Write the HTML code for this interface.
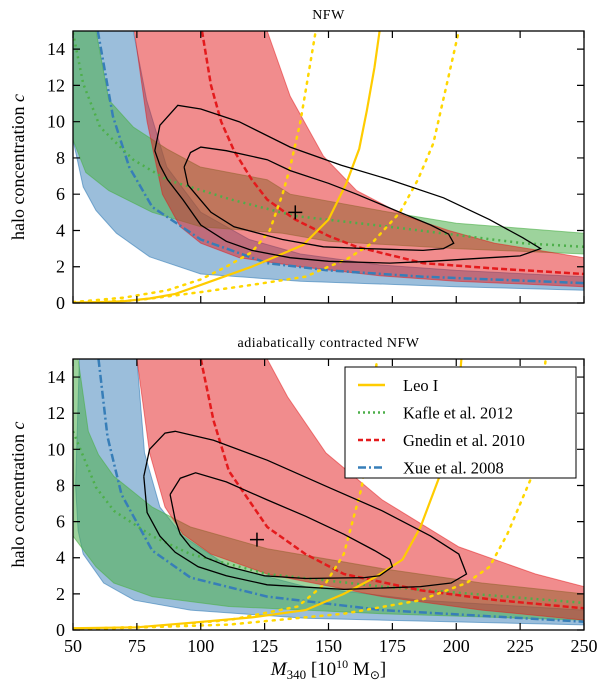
<!DOCTYPE html>
<html><head><meta charset="utf-8"><style>
body{margin:0;background:#fff}
svg{display:block;font-family:"Liberation Serif",serif}
</style></head><body>
<svg id="chart" width="600" height="691" viewBox="0 0 600 691" xmlns="http://www.w3.org/2000/svg"></svg>
<script>
// ---- data ----
const xTicks=[50,75,100,125,150,175,200,225,250];
const yTicks=[0,2,4,6,8,10,12,14];
const legendLabels=["Leo I","Kafle et al. 2012","Gnedin et al. 2010","Xue et al. 2008"];
// top panel (NFW)
const nfwLeo=[[50,0.02],[60,0.05],[70,0.1],[80,0.25],[90,0.5],[100,1.0],[110,1.5],[120,2.0],[130,2.6],[140,3.2],[150,4.6],[157,6.6],[162,8.5],[165,10.6],[168,13],[170,15]];
const nfwLeoLo=[[50,0.05],[70,0.3],[87,0.7],[100,1.3],[110,2.0],[120,2.8],[127,4],[132,6],[135,7.5],[139,10],[142,12.5],[145,15]];
const nfwLeoHi=[[50,0.02],[75,0.15],[100,0.6],[120,1.0],[141,1.45],[150,2.0],[157,2.4],[167,3.3],[178,5.0],[185,6.8],[191,8.8],[197,12.5],[201,15]];
const nfwRedUp=[[74,15],[126,15],[135,11.4],[148,8.1],[161,6.2],[180,4.8],[197,4.0],[215,3.3],[250,2.5]];
const nfwRedLo=[[74,15],[79,10],[85,6],[92,4.2],[100,3.3],[115,2.5],[139,2.0],[170,1.5],[200,1.2],[250,0.9]];
const nfwRedMid=[[100.5,15],[104,12],[108,10],[113,8.4],[120,6.8],[126,5.7],[137,4.6],[150,3.7],[161,3.1],[187,2.2],[215,1.9],[250,1.6]];
const nfwGreenUp=[[50,15],[59,15],[64,11.2],[73.6,9.7],[86.7,8.5],[99.8,7.5],[126,6.8],[135,6.0],[174,5.0],[200,4.4],[250,3.85]];
const nfwGreenLo=[[50,9],[55,7.2],[64,6.2],[81,5.0],[100,4.2],[132,3.85],[150,3.4],[200,3.0],[250,2.7]];
const nfwGreenMid=[[50,14.9],[54,12.1],[60.6,9.7],[73.6,7.9],[86.7,6.8],[112,5.7],[137,4.8],[174,4.2],[226,3.3],[250,3.1]];
const nfwBlueUp=[[50,15],[73.6,15],[78.8,11.2],[86.7,7.5],[100,5.0],[119,3.5],[139,2.7],[170,2.1],[200,1.8],[250,1.45]];
const nfwBlueLo=[[50,9],[54,6.4],[59,5.1],[67,3.85],[80,2.55],[100,1.6],[139,1.2],[200,0.9],[250,0.7]];
const nfwBlueMid=[[59.7,15],[65.6,10.3],[72,7.5],[81,5.3],[100,3.5],[126,2.2],[150,1.8],[187,1.45],[250,1.1]];
const nfwOuter=[[82,8.4],[84,9.8],[91,10.9],[100,10.7],[115,10],[135,8.6],[155,7.6],[174,6.8],[195,5.8],[213,4.6],[226,3.6],[233,3.0],[225,2.6],[213,2.5],[190,2.3],[174,2.2],[150,2.3],[135,2.5],[120,2.9],[110,3.4],[100,4.3],[93,5.7],[87,6.8],[84,7.6],[82,8.4]];
const nfwInner=[[93.5,7.5],[96,8.3],[100,8.6],[110,8.4],[126,7.9],[135,7.3],[150,6.6],[161,6.0],[178,5.0],[190,4.3],[197,3.8],[199,3.3],[195,3.0],[187,2.9],[165,3.0],[148,3.1],[132,3.5],[113,4.2],[104,5.0],[99.8,5.7],[95,6.5],[93.5,7.5]];
const nfwBest=[137,5];
// bottom panel (adiabatically contracted)
const acLeo=[[50,0.1],[75,0.15],[96,0.4],[120,0.7],[141,1.1],[156,2.0],[168,2.9],[179,3.9],[186,5.7],[194,8.7],[200,11.6],[202,15]];
const acLeoLo=[[50,0.05],[81,0.2],[111,0.55],[138,1.3],[149,2.6],[156,4.2],[163,7.9],[166,11],[169,15]];
const acLeoHi=[[50,0.02],[111,0.3],[156,0.9],[186,1.65],[204,2.6],[213,3.5],[220,5.3],[229,8.3],[232,11],[235,15]];
const acRedUp=[[75,15],[126,15],[134,12.9],[149,9.8],[171,7.2],[201,4.6],[231,3.1],[250,2.4]];
const acRedLo=[[75,15],[80,9.8],[86,6.8],[93,5.3],[104,4.2],[126,3.1],[171,1.85],[210,1.1],[250,0.55]];
const acRedMid=[[100,15],[105,11.6],[111,8.8],[126,5.7],[141,4.2],[156,3.1],[186,2.2],[216,1.65],[250,1.2]];
const acGreenUp=[[50,15],[52,15],[56,11],[60,9.7],[66,8.5],[81,6.8],[96,5.7],[126,4.5],[171,3.4],[210,2.6],[250,2.0]];
const acGreenLo=[[50,5.2],[59,3.5],[66,2.6],[81,1.85],[111,1.3],[171,0.9],[250,0.55]];
const acGreenMid=[[50,11],[59,7.9],[66,6.6],[81,5.2],[96,4.2],[126,3.1],[171,2.4],[250,1.5]];
const acBlueUp=[[52.5,15],[75,15],[78,9.8],[84,6.8],[93,5.2],[111,3.5],[141,2.4],[186,1.65],[250,1.1]];
const acBlueLo=[[52.5,15],[51,8],[52,5.5],[54,4.2],[62,2.6],[74,1.65],[96,1.1],[141,0.65],[250,0.28]];
const acBlueMid=[[60,15],[63.5,10.7],[69,7.5],[81,4.4],[96,2.9],[126,1.85],[171,1.1],[250,0.46]];
const acOuter=[[77.7,8.5],[80,10],[86,10.9],[90,11],[105,10.5],[126,9.4],[150,7.9],[171,6.6],[190,5.2],[201,4.2],[204,3.1],[198,2.6],[186,2.4],[156,2.25],[126,2.5],[110,3.0],[99,3.5],[90,4.3],[84,5.2],[79,6.5],[77.7,8.5]];
const acInner=[[88,7.5],[92,8.4],[98,8.7],[110,8.2],[126,7.2],[141,6.3],[156,5.3],[168,4.4],[174,3.9],[175,3.5],[170,3.0],[164,2.9],[141,2.85],[125,3.0],[111,3.5],[102,4.0],[96,4.6],[92,5.3],[90,6.1],[88,7.5]];
const acBest=[122,5];

// ---- layout ----
const L=73,R=584;
const panels=[{top:31,bottom:303,title:"NFW",name:"nfw"},{top:359,bottom:630,title:"adiabatically contracted NFW",name:"ac"}];
const NS="http://www.w3.org/2000/svg";
const svg=document.getElementById('chart');
function mk(tag,attrs,parent){const e=document.createElementNS(NS,tag);for(const k in attrs)e.setAttribute(k,attrs[k]);(parent||svg).appendChild(e);return e;}
const xs=v=>L+(v-50)/200*(R-L);
function ysF(p){return v=>p.bottom-v/15*(p.bottom-p.top);}
function pathOf(pts,ys){return pts.map((p,i)=>(i?'L':'M')+xs(p[0]).toFixed(1)+','+ys(p[1]).toFixed(1)).join(' ');}
function band(up,lo,ys){return pathOf(up,ys)+' '+lo.slice().reverse().map(p=>'L'+xs(p[0]).toFixed(1)+','+ys(p[1]).toFixed(1)).join(' ')+' Z';}

const sets=[
 {leo:nfwLeo,lo:nfwLeoLo,hi:nfwLeoHi,rU:nfwRedUp,rL:nfwRedLo,rM:nfwRedMid,gU:nfwGreenUp,gL:nfwGreenLo,gM:nfwGreenMid,bU:nfwBlueUp,bL:nfwBlueLo,bM:nfwBlueMid,o:nfwOuter,i:nfwInner,best:nfwBest},
 {leo:acLeo,lo:acLeoLo,hi:acLeoHi,rU:acRedUp,rL:acRedLo,rM:acRedMid,gU:acGreenUp,gL:acGreenLo,gM:acGreenMid,bU:acBlueUp,bL:acBlueLo,bM:acBlueMid,o:acOuter,i:acInner,best:acBest}
];

panels.forEach((p,k)=>{
 const ys=ysF(p), d=sets[k];
 const defs=mk('defs',{});
 const cp=mk('clipPath',{id:'clip'+k},defs);
 mk('rect',{x:L,y:p.top,width:R-L,height:p.bottom-p.top},cp);
 const t=mk('text',{x:(L+R)/2,y:p.top-12,'text-anchor':'middle','font-size':'14','letter-spacing':'0.5'});
 t.textContent=p.title;
 
 
 const g=mk('g',{'clip-path':'url(#clip'+k+')'});
 
 
 let e;
 e=mk('path',{d:band(d.bU,d.bL,ys),fill:'rgba(55,126,184,0.5)',stroke:'rgba(55,126,184,0.6)','stroke-width':1},g);
 
 
 e=mk('path',{d:band(d.gU,d.gL,ys),fill:'rgba(77,175,74,0.55)',stroke:'rgba(77,175,74,0.6)','stroke-width':1},g);
 
 
 e=mk('path',{d:band(d.rU,d.rL,ys),fill:'rgba(228,26,28,0.5)',stroke:'rgba(228,26,28,0.5)','stroke-width':1},g);
 
 
 e=mk('path',{d:pathOf(d.bM,ys),fill:'none',stroke:'#377eb8','stroke-width':2.5,'stroke-dasharray':'8,3,2,3'},g);
 
 
 e=mk('path',{d:pathOf(d.gM,ys),fill:'none',stroke:'#4daf4a','stroke-width':2.5,'stroke-dasharray':'2,4'},g);
 
 
 e=mk('path',{d:pathOf(d.rM,ys),fill:'none',stroke:'#e41a1c','stroke-width':2.5,'stroke-dasharray':'6,3'},g);
 
 
 e=mk('path',{d:pathOf(d.lo,ys),fill:'none',stroke:'#ffd700','stroke-width':2.5,'stroke-dasharray':'2,6','stroke-linecap':'round'},g);
 
 
 e=mk('path',{d:pathOf(d.hi,ys),fill:'none',stroke:'#ffd700','stroke-width':2.5,'stroke-dasharray':'2,6','stroke-linecap':'round'},g);
 
 
 e=mk('path',{d:pathOf(d.leo,ys),fill:'none',stroke:'#ffcc00','stroke-width':2.2},g);
 
 
 e=mk('path',{d:pathOf(d.o,ys),fill:'none',stroke:'#000','stroke-width':1.3},g);
 
 
 e=mk('path',{d:pathOf(d.i,ys),fill:'none',stroke:'#000','stroke-width':1.3},g);
 
 
 const bx=xs(d.best[0]),by=ys(d.best[1]);
 e=mk('path',{d:`M${bx-7},${by}H${bx+7}M${bx},${by-7}V${by+7}`,stroke:'#000','stroke-width':1.5},g);
 
 
 // frame
 e=mk('rect',{x:L,y:p.top,width:R-L,height:p.bottom-p.top,fill:'none',stroke:'#000','stroke-width':1.3});
 
 
 xTicks.forEach(v=>{
  const x=xs(v);
  mk('path',{d:`M${x},${p.bottom}v-7M${x},${p.top}v7`,stroke:'#000','stroke-width':1.2});
  if(k===1){const tl=mk('text',{x:x,y:p.bottom+22,'text-anchor':'middle','font-size':'18'});tl.textContent=v;
   
   }
 });
 yTicks.forEach(v=>{
  const y=ys(v);
  mk('path',{d:`M${L},${y}h7M${R},${y}h-7`,stroke:'#000','stroke-width':1.2});
  const tl=mk('text',{x:L-8,y:y+6,'text-anchor':'end','font-size':'18'});tl.textContent=v;
  
  
 });
 const yl=mk('text',{x:0,y:0,transform:`translate(24,${(p.top+p.bottom)/2}) rotate(-90)`,'text-anchor':'middle','font-size':'18'});
 yl.innerHTML='halo concentration <tspan font-style="italic">c</tspan>';
 
 
});

// x axis title
const xt=mk('text',{x:(L+R)/2,y:675,'text-anchor':'middle','font-size':'19'});
xt.innerHTML='<tspan font-style="italic">M</tspan><tspan font-size="13" dy="4">340</tspan><tspan dy="-4"> [10</tspan><tspan font-size="12" dy="-7">10</tspan><tspan dy="7"> M</tspan><tspan font-size="12" dy="4">⊙</tspan><tspan dy="-4">]</tspan>';



// legend
const lg=mk('g',{});


mk('rect',{x:345,y:367,width:231,height:111,fill:'#fff',stroke:'#000','stroke-width':1},lg);
const lstyles=[{c:'#ffcc00',da:'none'},{c:'#4daf4a',da:'2,3'},{c:'#e41a1c',da:'5,3'},{c:'#377eb8',da:'8,3,2,3'}];
legendLabels.forEach((lab,i)=>{
 const y=385+i*27.5;
 const ln=mk('line',{x1:358,x2:385,y1:y,y2:y,stroke:lstyles[i].c,'stroke-width':2.5,'stroke-dasharray':lstyles[i].da},lg);
 
 
 const tx=mk('text',{x:403,y:y+6,'font-size':'16.5'},lg);
 tx.textContent=lab;
 
 
});
</script>
</body></html>
